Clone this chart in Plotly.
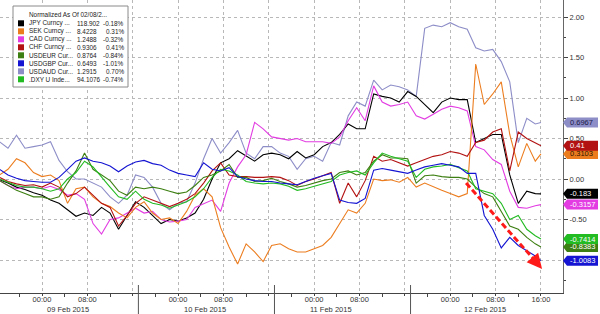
import plotly.graph_objects as go

# time axis: hours since 09 Feb 2015 00:00
hours = [-7.5 + 1.5 * i for i in range(64)] + [88.0]

jpy = [-0.01, -0.05, -0.10, -0.13, -0.17, -0.20, -0.26, -0.30, -0.38, -0.46, -0.42, -0.45, -0.35, -0.42, -0.62, -0.45, -0.28,
       -0.35, -0.45, -0.55, -0.50, -0.52, -0.48, -0.42, -0.25, 0.00, 0.20, 0.25, 0.35, 0.28, 0.22, 0.30, 0.32,
       0.30, 0.25, 0.34, 0.26, 0.30, 0.40, 0.45, 0.55, 0.68, 0.62, 0.62, 1.05, 1.02, 1.00, 0.95, 1.08,
       1.02, 0.92, 0.82, 0.95, 1.00, 0.98, 0.98, 0.45, 0.50, 0.55, 0.55, 0.05, -0.30, -0.15, -0.18, -0.183]
sek = [0.05, 0.12, 0.25, 0.20, 0.08, 0.03, 0.05, -0.02, -0.30, -0.12, -0.10, -0.22, -0.30, -0.34, -0.42, -0.48, -0.35,
       -0.28, -0.42, -0.50, -0.48, -0.55, -0.40, -0.20, -0.12, -0.22, -0.60, -0.84, -1.05, -0.80, -0.90, -1.02, -0.82,
       -0.80, -0.86, -0.90, -0.90, -0.86, -0.82, -0.72, -0.55, -0.38, -0.42, -0.30, 0.00, -0.02, -0.01, -0.04, 0.02,
       -0.10, -0.05, -0.10, -0.14, -0.18, -0.22, -0.18, 1.42, 0.92, 1.05, 1.20, 0.55, 0.15, 0.44, 0.22, 0.3103]
cad = [-0.02, -0.08, -0.12, -0.10, -0.10, -0.12, -0.09, -0.13, -0.20, -0.18, -0.25, -0.55, -0.68, -0.50, -0.48, -0.42, -0.36,
       -0.42, -0.40, -0.50, -0.53, -0.52, -0.50, -0.35, -0.30, -0.26, -0.40, -0.05, 0.15, 0.30, 0.70, 0.62, 0.52,
       0.50, 0.48, 0.50, 0.46, 0.46, 0.46, 0.44, 0.52, 0.72, 0.88, 0.72, 1.15, 0.95, 0.90, 0.92, 0.95,
       0.78, 0.74, 0.80, 0.86, 0.90, 0.88, 0.84, 0.40, 0.36, 0.24, 0.18, -0.15, -0.35, -0.36, -0.33, -0.3157]
chf = [0.02, -0.03, -0.06, -0.08, -0.07, -0.10, -0.05, -0.10, -0.22, -0.18, -0.10, -0.20, -0.30, -0.35, -0.58, -0.45, -0.30,
       -0.22, -0.26, -0.30, -0.34, -0.30, -0.25, -0.18, -0.05, 0.10, 0.20, 0.05, 0.03, 0.03, 0.02, 0.02, 0.03,
       0.02, -0.02, -0.08, -0.03, 0.00, 0.04, 0.08, -0.30, -0.05, -0.22, -0.02, 0.28, 0.22, 0.24, 0.20, 0.16,
       0.20, 0.24, 0.28, 0.30, 0.34, 0.32, 0.28, 0.45, 0.48, 0.58, 0.62, 0.10, 0.58, 0.50, 0.45, 0.41]
usdeur = [-0.02, -0.08, -0.14, -0.18, -0.22, -0.22, -0.25, -0.22, -0.05, 0.10, 0.32, 0.12, 0.05, -0.02, -0.15, -0.20, -0.10,
          -0.12, -0.10, -0.12, -0.15, -0.18, -0.16, -0.08, 0.02, 0.05, 0.10, 0.18, 0.02, 0.02, -0.03, -0.02, 0.01,
          -0.03, -0.06, -0.10, -0.08, -0.05, -0.02, 0.00, 0.08, 0.10, 0.05, 0.08, 0.22, 0.30, 0.26, 0.26, 0.25,
          -0.05, 0.04, 0.05, 0.03, 0.02, 0.02, 0.00, -0.10, -0.18, -0.22, -0.40, -0.58, -0.62, -0.72, -0.80, -0.8383]
usdgbp = [0.12, 0.05, 0.01, -0.02, -0.03, -0.04, -0.04, 0.02, 0.12, 0.22, 0.26, 0.22, 0.20, 0.16, 0.09, 0.16, 0.21,
          0.23, 0.19, 0.17, 0.11, 0.07, 0.05, 0.03, 0.20, 0.12, 0.10, 0.14, 0.03, 0.00, -0.02, -0.03, -0.03,
          -0.05, -0.06, -0.07, -0.03, 0.01, 0.04, 0.07, -0.26, -0.29, -0.30, -0.24, 0.11, 0.13, 0.11, 0.09, 0.07,
          0.11, 0.15, 0.17, 0.19, 0.17, 0.15, 0.07, 0.07, -0.45, -0.62, -0.85, -0.72, -0.82, -0.88, -0.95, -1.0083]
usdaud = [0.46, 0.38, 0.54, 0.38, 0.40, 0.42, 0.46, 0.23, 0.09, 0.00, 0.00, -0.05, -0.10, -0.22, -0.30, -0.20, 0.05,
          0.02, -0.10, -0.30, -0.38, -0.30, -0.28, -0.05, 0.25, 0.50, 0.32, 0.45, 0.60, 0.32, 0.25, 0.40, 0.40,
          0.32, 0.28, 0.12, 0.25, 0.28, 0.22, 0.45, 0.42, 0.78, 0.95, 0.90, 1.22, 1.10, 1.16, 1.14, 1.10,
          1.02, 1.86, 1.90, 1.88, 1.93, 1.88, 1.85, 1.62, 1.58, 1.60, 1.45, 1.20, 0.45, 0.75, 0.68, 0.6967]
dxy = [0.00, -0.04, -0.08, -0.10, -0.10, -0.12, -0.15, -0.12, 0.00, 0.08, 0.22, 0.15, 0.02, -0.10, -0.22, -0.25, -0.15,
       -0.25, -0.30, -0.32, -0.36, -0.32, -0.28, -0.22, -0.12, 0.02, 0.12, 0.10, 0.05, -0.03, -0.05, -0.06, -0.05,
       -0.06, -0.09, -0.14, -0.12, -0.09, -0.06, -0.03, 0.05, 0.08, 0.10, 0.05, 0.20, 0.32, 0.28, 0.25, 0.22,
       0.02, 0.12, 0.15, 0.16, 0.18, 0.14, 0.10, -0.12, -0.15, -0.18, -0.30, -0.50, -0.45, -0.62, -0.70, -0.7414]

series_names = ["JPY Curncy", "SEK Curncy", "CAD Curncy", "CHF Curncy",
                "USDEUR Curncy", "USDGBP Curncy", "USDAUD Curncy", ".DXY U Index"]
series_values = [jpy, sek, cad, chf, usdeur, usdgbp, usdaud, dxy]
series_colors = ["#000000", "#ec7d1f", "#e23ce2", "#b31212", "#3d7f12", "#1414d2", "#8d8dc8", "#22bb22"]
box_text_colors = ["#ffffff", "#2a1400", "#ffffff", "#ffffff", "#ffffff", "#ffffff", "#1c1c48", "#ffffff"]
end_labels = ["-0.183", "0.3103", "-0.3157", "0.41", "-0.8383", "-1.0083", "0.6967", "-0.7414"]

legend_title = "Normalized As Of 02/08/2..."
legend_names = ["JPY Curncy ...", "SEK Curncy ...", "CAD Curncy ...", "CHF Curncy ...",
                "USDEUR Cur...", "USDGBP Cur...", "USDAUD Cur...", ".DXY U Inde..."]
legend_prices = ["118.902", "8.4228", "1.2488", "0.9306", "0.8764", "0.6493", "1.2915", "94.1076"]
legend_pcts = ["-0.18%", "0.31%", "-0.32%", "0.41%", "-0.84%", "-1.01%", "0.70%", "-0.74%"]

tick_hours = [0, 8, 16, 24, 32, 40, 48, 56, 64, 72, 80, 88]
tick_text = ["00:00", "08:00", "", "00:00", "08:00", "", "00:00", "08:00", "", "00:00", "08:00", "16:00"]
y_tick_vals = [-1.0, -0.5, 0.0, 0.5, 1.0, 1.5, 2.0]
y_tick_text = ["", "-0.50", "0.00", "0.50", "1.00", "1.50", "2.00"]  # -1.00 sits under the -1.0083 box
day_breaks = [17, 41, 65]
day_labels = ["09 Feb 2015", "10 Feb 2015", "11 Feb 2015", "12 Feb 2015"]
day_label_pos = [4.6, 28.7, 51.0, 78.1]

FONT = "Liberation Sans"
W, H = 600, 314
ML, MR, MT, MB = 0, 37, 0, 21
PW, PH = W - ML - MR, H - MT - MB


def px_x(p):
    return (p - ML) / PW


def px_y(p):
    return (H - MB - p) / PH


fig = go.Figure()
draw_order = [6, 0, 2, 1, 3, 4, 7, 5]
for i in draw_order:
    fig.add_trace(go.Scatter(x=hours, y=series_values[i], mode="lines", name=series_names[i],
                             line=dict(color=series_colors[i], width=1.1)))

shapes = []
annotations = []

# day separators in the axis area
for d in day_breaks:
    shapes.append(dict(type="line", xref="x", yref="paper", x0=d, x1=d,
                       y0=px_y(285), y1=px_y(314), line=dict(color="#555555", width=1)))
for lab, pos in zip(day_labels, day_label_pos):
    annotations.append(dict(x=pos, y=px_y(309), xref="x", yref="paper", text=lab, showarrow=False,
                            font=dict(family=FONT, size=7.5, color="#333333"),
                            xanchor="center", yanchor="middle"))

# right-side last-value boxes
hh = 5.0 / 81.0
for i in range(len(series_values)):
    v = series_values[i][-1]
    x0, x1, x2 = px_x(563), px_x(567), px_x(598)
    path = f"M {x0},{v} L {x1},{v + hh} L {x2},{v + hh} L {x2},{v - hh} L {x1},{v - hh} Z"
    shapes.append(dict(type="path", xref="paper", yref="y", path=path,
                       fillcolor=series_colors[i], line=dict(width=0)))
for i in range(len(series_values)):
    v = series_values[i][-1]
    annotations.append(dict(x=px_x(568), y=v, xref="paper", yref="y", text=end_labels[i], showarrow=False,
                            xanchor="left", yanchor="middle",
                            font=dict(family=FONT, size=7.5, color=box_text_colors[i])))

# legend box
shapes.append(dict(type="rect", xref="paper", yref="paper", x0=px_x(13), x1=px_x(128),
                   y0=px_y(87), y1=px_y(6), fillcolor="white", line=dict(color="#8a8a8a", width=1)))
annotations.append(dict(x=px_x(27), y=px_y(15), xref="paper", yref="paper", text=legend_title,
                        showarrow=False, xanchor="left", yanchor="middle",
                        font=dict(family=FONT, size=6.4, color="#222222")))
for i in range(8):
    ry = 23.3 + 8 * i
    shapes.append(dict(type="rect", xref="paper", yref="paper", x0=px_x(18), x1=px_x(24),
                       y0=px_y(ry + 3), y1=px_y(ry - 3), fillcolor=series_colors[i], line=dict(width=0)))
    annotations.append(dict(x=px_x(27), y=px_y(ry), xref="paper", yref="paper", text=legend_names[i],
                            showarrow=False, xanchor="left", yanchor="middle",
                            font=dict(family=FONT, size=6.4, color="#222222")))
    annotations.append(dict(x=px_x(75), y=px_y(ry), xref="paper", yref="paper", text=legend_prices[i],
                            showarrow=False, xanchor="left", yanchor="middle",
                            font=dict(family=FONT, size=6.4, color="#222222")))
    annotations.append(dict(x=px_x(126), y=px_y(ry), xref="paper", yref="paper", text=legend_pcts[i],
                            showarrow=False, xanchor="right", yanchor="middle",
                            font=dict(family=FONT, size=6.4, color="#222222")))

# red dashed trend arrow
shapes.append(dict(type="line", xref="x", yref="y", x0=74.8, y0=-0.05, x1=86.6, y1=-0.98,
                   line=dict(color="#ff1a1a", width=3, dash="6px,3px")))
annotations.append(dict(x=88.2, y=-1.11, xref="x", yref="y", ax=-11, ay=-13, axref="pixel", ayref="pixel",
                        showarrow=True, arrowhead=2, arrowsize=1, arrowwidth=3, arrowcolor="#ff1a1a", text=""))

fig.update_layout(
    width=W, height=H, margin=dict(l=ML, r=MR, t=MT, b=MB),
    plot_bgcolor="white", paper_bgcolor="white", showlegend=False,
    font=dict(family=FONT, size=7.5, color="#333333"),
    shapes=shapes, annotations=annotations,
    xaxis=dict(range=[-7.41, 91.89], tickmode="array", tickvals=tick_hours, ticktext=tick_text,
               showgrid=True, gridcolor="#b8b8b8", griddash="dot", gridwidth=1,
               ticks="outside", ticklen=2, tickcolor="#444444", showline=True, linecolor="#444444",
               zeroline=False, tickfont=dict(family=FONT, size=7.5, color="#333333"),
               ticklabelstandoff=-3,
               minor=dict(tick0=4, dtick=8, ticks="outside", ticklen=3, tickcolor="#444444", showgrid=False)),
    yaxis=dict(range=[-1.407, 2.21], side="right", tickmode="array", tickvals=y_tick_vals, ticktext=y_tick_text,
               showgrid=True, gridcolor="#b8b8b8", griddash="dot", gridwidth=1,
               ticks="outside", ticklen=4, tickcolor="#444444", showline=True, linecolor="#666666",
               zeroline=False, tickfont=dict(family=FONT, size=7.5, color="#333333"),
               minor=dict(tickvals=[-1.25, -0.75, -0.25, 0.25, 0.75, 1.25, 1.75], ticks="outside",
                          ticklen=2, tickcolor="#444444", showgrid=False)),
)

fig.write_html("out.html")
